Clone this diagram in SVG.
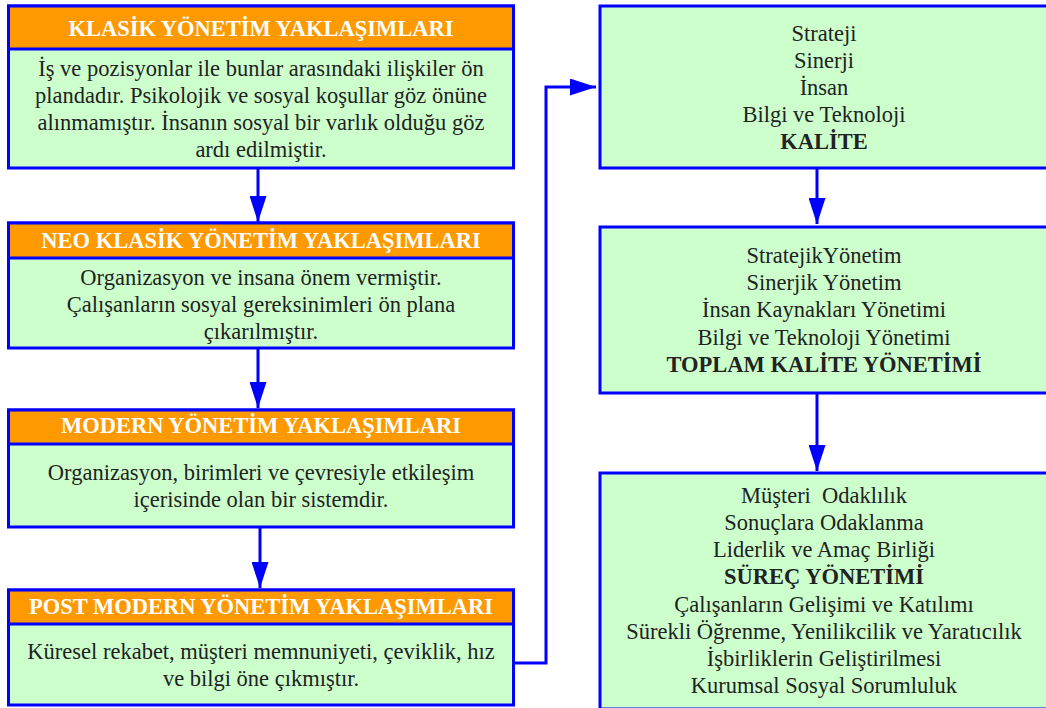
<svg xmlns="http://www.w3.org/2000/svg" width="1046" height="708" viewBox="0 0 1046 708">
  <style>
    .box { fill: #ccffcc; stroke: #0000ff; stroke-width: 3; }
    .head { fill: #ff9900; stroke: #0000ff; stroke-width: 3; }
    .txt { font-family: "Liberation Serif", "Times New Roman", serif; font-size: 22.5px; fill: #222222; text-anchor: middle; }
    .b { font-weight: bold; }
    .ht { font-family: "Liberation Serif", "Times New Roman", serif; font-size: 22.5px; font-weight: bold; fill: #ffffff; text-anchor: middle; }
    .conn { fill: none; stroke: #0000ff; stroke-width: 3; }
  </style>
  <defs>
    <marker id="arrow" viewBox="0 0 26 17" refX="26" refY="8.5" markerWidth="26" markerHeight="17" markerUnits="userSpaceOnUse" orient="auto">
      <path d="M0,0 L26,8.5 L0,17 Z" fill="#0000ff"/>
    </marker>
  </defs>
  <rect width="1046" height="708" fill="#ffffff"/>

  <!-- connectors -->
  <g id="connectors">
    <path class="conn" d="M258,168 V222" marker-end="url(#arrow)"/>
    <path class="conn" d="M258,348 V408" marker-end="url(#arrow)"/>
    <path class="conn" d="M260,527 V588" marker-end="url(#arrow)"/>
    <path class="conn" d="M514,663 H546 V87 H596" marker-end="url(#arrow)"/>
    <path class="conn" d="M817,168 V224" marker-end="url(#arrow)"/>
    <path class="conn" d="M817,393 V471" marker-end="url(#arrow)"/>
  </g>

  <!-- left column -->
  <g id="klasik">
    <rect class="box" x="8.5" y="6" width="505" height="162"/>
    <rect class="head" x="8.5" y="6" width="505" height="43"/>
    <text class="ht" x="261" y="36">KLASİK YÖNETİM YAKLAŞIMLARI</text>
    <text class="txt" x="261" y="76">İş ve pozisyonlar ile bunlar arasındaki ilişkiler ön</text>
    <text class="txt" x="261" y="103">plandadır. Psikolojik ve sosyal koşullar göz önüne</text>
    <text class="txt" x="261" y="130">alınmamıştır. İnsanın sosyal bir varlık olduğu göz</text>
    <text class="txt" x="261" y="157">ardı edilmiştir.</text>
  </g>

  <g id="neo-klasik">
    <rect class="box" x="8.5" y="223" width="505" height="125"/>
    <rect class="head" x="8.5" y="223" width="505" height="35"/>
    <text class="ht" x="261" y="248">NEO KLASİK YÖNETİM YAKLAŞIMLARI</text>
    <text class="txt" x="261" y="285">Organizasyon ve insana önem vermiştir.</text>
    <text class="txt" x="261" y="312">Çalışanların sosyal gereksinimleri ön plana</text>
    <text class="txt" x="261" y="339">çıkarılmıştır.</text>
  </g>

  <g id="modern">
    <rect class="box" x="8.5" y="410" width="505" height="117"/>
    <rect class="head" x="8.5" y="410" width="505" height="34"/>
    <text class="ht" x="261" y="433">MODERN YÖNETİM YAKLAŞIMLARI</text>
    <text class="txt" x="261" y="480">Organizasyon, birimleri ve çevresiyle etkileşim</text>
    <text class="txt" x="261" y="507">içerisinde olan bir sistemdir.</text>
  </g>

  <g id="post-modern">
    <rect class="box" x="8.5" y="590" width="505" height="115"/>
    <rect class="head" x="8.5" y="590" width="505" height="34"/>
    <text class="ht" x="261" y="614">POST MODERN YÖNETİM YAKLAŞIMLARI</text>
    <text class="txt" x="261" y="659">Küresel rekabet, müşteri memnuniyeti, çeviklik, hız</text>
    <text class="txt" x="261" y="686">ve bilgi öne çıkmıştır.</text>
  </g>

  <!-- right column -->
  <g id="kalite">
    <rect class="box" x="600" y="6" width="452" height="162"/>
    <text class="txt" x="824" y="41">Strateji</text>
    <text class="txt" x="824" y="68">Sinerji</text>
    <text class="txt" x="824" y="95">İnsan</text>
    <text class="txt" x="824" y="122">Bilgi ve Teknoloji</text>
    <text class="txt b" x="824" y="149">KALİTE</text>
  </g>

  <g id="tky">
    <rect class="box" x="600" y="227" width="452" height="166"/>
    <text class="txt" x="824" y="263">StratejikYönetim</text>
    <text class="txt" x="824" y="290">Sinerjik Yönetim</text>
    <text class="txt" x="824" y="317">İnsan Kaynakları Yönetimi</text>
    <text class="txt" x="824" y="345">Bilgi ve Teknoloji Yönetimi</text>
    <text class="txt b" x="824" y="372">TOPLAM KALİTE YÖNETİMİ</text>
  </g>

  <g id="surec">
    <rect class="box" x="600" y="473" width="452" height="236"/>
    <text class="txt" x="824" y="503" style="white-space:pre">Müşteri  Odaklılık</text>
    <text class="txt" x="824" y="530">Sonuçlara Odaklanma</text>
    <text class="txt" x="824" y="557">Liderlik ve Amaç Birliği</text>
    <text class="txt b" x="824" y="584">SÜREÇ YÖNETİMİ</text>
    <text class="txt" x="824" y="612">Çalışanların Gelişimi ve Katılımı</text>
    <text class="txt" x="824" y="639">Sürekli Öğrenme, Yenilikcilik ve Yaratıcılık</text>
    <text class="txt" x="824" y="666">İşbirliklerin Geliştirilmesi</text>
    <text class="txt" x="824" y="693">Kurumsal Sosyal Sorumluluk</text>
  </g>
</svg>
